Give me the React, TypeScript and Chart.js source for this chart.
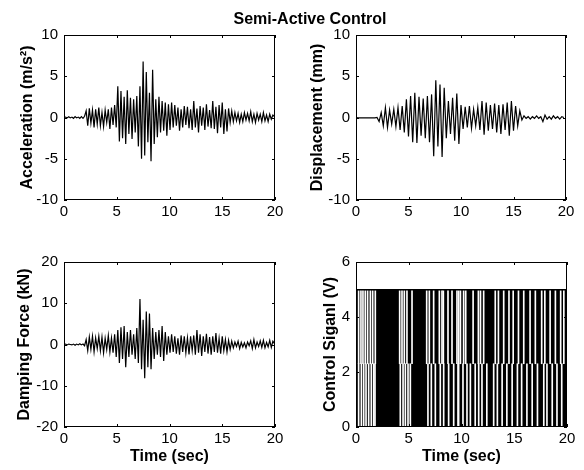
import React, { useEffect, useRef } from "react";
import { Chart, registerables } from "chart.js";
Chart.register(...registerables);

const FONT = "'Liberation Sans', Arial, sans-serif";

// ---------- data ----------
const X_MIN = 0;
const X_MAX = 20;
const X_STEP = 5;

// Acceleration (m/s^2), peaks sampled every 0.15 s
const ACC_STEP = 0.15;
const ACC_VALUES = [
  0, 0.05, -0.05, 0.1, -0.05, 0.05, -0.1, 0.1, -0.05, 0.05, -0.1, 0.1, -0.1, 0.15,
  0.8, -1.0, 1.1, -0.7, 0.9, -1.2, 1.0, -0.8, 1.2, -1.0, 0.6, -1.1, 0.9, -0.6, 1.0, -1.4, 1.2, -0.9, 1.5, -1.2,
  3.8, -2.9, 3.2, -2.5, 2.5, -3.2, 3.3, -2.0, 2.4, -2.6, 2.2, -1.8, 2.6,
  -3.5, 3.8, -5.0, 6.8, -4.6, 5.5, -3.0, 3.0, -5.3, 5.8,
  -3.2, 2.2, -2.4, 2.5, -1.8, 2.0, -1.6, 1.8, -2.2, 1.6,
  -1.5, 1.8, -1.2, 1.5, -1.0, 1.2, -1.6, 1.0, -1.2, 1.4, -0.9, 1.3, -1.3, 1.0, -1.5, 2.0, -1.2, 1.1, -1.8, 1.4,
  -1.0, 1.2, -1.5, 1.6, -1.1, 0.9, -1.3, 2.0, -1.4, 1.3, -1.9, 1.5, -1.2, 1.8, -2.0, 1.0, -1.7, 1.1, -0.6, 0.8,
  -0.5, 0.6, -0.4, 0.5, -0.6, 0.4, -0.5, 0.6, -0.3, 0.5, -0.4, 0.7, -0.5, 0.4, -0.6, 0.5, -0.3, 0.4, -0.5, 0.6,
  -0.4, 0.3, -0.5, 0.4, -0.2, 0.3, 0.1,
];

// Displacement (mm), peaks sampled every 0.2 s
const DISP_STEP = 0.2;
const DISP_VALUES = [
  0, -0.05, -0.05, -0.05, -0.05, -0.05, -0.05, -0.05, -0.05, -0.05, 0,
  -0.5, 0.6, -1.0, 1.2, -1.2, 0.9, -0.8, 1.0, -1.1, 1.2, -1.5, 1.4, -1.8, 2.2,
  -2.3, 2.6, -3.0, 3.0, -3.1, 2.5, -2.2, 2.3, -2.5, 2.6,
  -3.0, 2.8, -4.7, 4.5, -3.5, 4.0, -4.8, 3.6, -2.5, 2.0,
  -2.0, 2.4, -2.8, 2.9, -3.2, 1.5, -1.4, 1.3, -1.2, 1.4,
  -1.3, 1.0, -1.0, 1.2, -1.5, 2.0, -2.1, 1.8, -1.6, 1.5, -1.4, 1.7, -1.8, 1.5, -2.0, 1.6, -1.5, 1.8, -2.2, 2.0,
  -1.6, 1.4, -1.0, 0.8,
  -0.3, 0.2, -0.1, 0.1, -0.2, 0.1, -0.1, 0.2, -0.1, 0.1, -0.5, 0.3, -0.2, 0.1, -0.2, 0.2, -0.1, 0.1, -0.2, 0.1, 0,
];

// Damping force (kN), peaks sampled every 0.15 s
const FORCE_STEP = 0.15;
const FORCE_VALUES = [
  0, 0.1, -0.1, 0.1, 0, -0.1, 0.1, -0.2, 0.1, -0.1, 0.2, -0.1, 0.1, -0.3,
  1.2, -1.5, 1.8, -1.2, 2.0, -1.8, 1.6, -1.0, 2.0, -1.5, 1.8, -2.0, 1.5, -1.2, 2.2, -1.8, 1.6, -2.0, 2.5, -3.0,
  3.5, -4.5, 4.2, -3.5, 4.5, -5.5, 3.0, -3.0, 3.5, -2.5, 2.5, -3.5, 4.0,
  -4.5, 11.0, -6.0, 6.0, -8.2, 8.0, -5.5, 7.5, -6.0, 4.0,
  -3.5, 3.0, -2.5, 3.5, -3.0, 4.5, -4.0, 3.0, -2.5, 2.0,
  -2.0, 2.5, -1.8, 2.0, -2.2, 1.5, -2.5, 2.2, -1.8, 2.0, -2.0, 1.6, -2.4, 2.0, -1.5, 2.2, -2.5, 3.5, -2.0, 2.5,
  -2.8, 2.0, -1.8, 2.6, -2.2, 1.8, -2.5, 2.0, -1.8, 2.8, -2.0, 1.5, -2.2, 2.0, -1.5, 1.2, -1.8, 1.0, -1.2, 0.8,
  -0.8, 0.6, -0.5, 0.8, -1.0, 0.5, -0.6, 0.4, -0.8, 0.6, -0.3, 0.9, -1.0, 1.2, -0.8, 0.6, -0.5, 0.9, -0.7, 1.0,
  -0.8, 0.5, -0.6, 1.0, -0.7, 0.8, 0.2,
];

// Control signal (V): switching band 0..5 V, with gaps (white stripes)
const CONTROL_SPAN_TIME = [0, 20];
const CONTROL_SPAN_LEVEL = [5, 5];
const STRIPE_SPLIT_LEVEL = 2.3;
const STRIPE_TOP_LEVEL = 4.95;
const STRIPE_BOTTOM_LEVEL = 0;
const UPPER_STRIPE_TIMES = [
  0.25, 0.47, 0.66, 0.88, 1.1, 1.36, 1.58, 1.83, 4.14, 4.36, 4.58, 4.83, 5.31, 6.7, 6.95, 7.36, 7.9,
  8.15, 8.28, 8.72, 9.1, 9.57, 9.73, 9.9, 10.2, 10.4, 11.1, 11.6, 11.8, 12.1, 13.2, 13.5, 14.0, 14.5,
  14.9, 15.4, 15.9, 16.5, 17.0, 17.6, 17.9, 18.4, 18.9, 19.4, 19.7,
];
const LOWER_STRIPE_TIMES = [
  0.25, 0.51, 0.73, 0.95, 1.2, 1.45, 1.68, 1.8, 4.2, 4.46, 4.68, 4.93, 5.15, 6.82, 7.14, 7.52, 7.99,
  8.31, 8.78, 9.26, 9.67, 9.73, 10.14, 10.52, 10.84, 11.3, 11.63, 11.94, 12.4, 13.05, 13.4, 13.85,
  14.3, 14.8, 15.3, 15.7, 16.2, 16.7, 17.2, 17.8, 18.1, 18.6, 19.05, 19.5,
];

const TITLE = "Semi-Active Control";

// ---------- helpers ----------
const toPoints = (values: number[], step: number) =>
  values.map((v, i) => ({ x: i * step, y: v }));

const framePlugin = {
  id: "matlabFrame",
  afterDatasetsDraw(chart: any) {
    const { ctx, chartArea, scales } = chart;
    const { left, right, top, bottom } = chartArea;
    ctx.save();
    ctx.strokeStyle = "#000";
    ctx.lineWidth = 1;
    ctx.strokeRect(left + 0.5, top + 0.5, right - left - 1, bottom - top - 1);
    const tl = 3;
    ctx.beginPath();
    scales.x.ticks.forEach((t: any) => {
      const px = Math.round(scales.x.getPixelForValue(t.value)) + 0.5;
      ctx.moveTo(px, bottom);
      ctx.lineTo(px, bottom - tl);
      ctx.moveTo(px, top);
      ctx.lineTo(px, top + tl);
    });
    scales.y.ticks.forEach((t: any) => {
      const py = Math.round(scales.y.getPixelForValue(t.value)) + 0.5;
      ctx.moveTo(left, py);
      ctx.lineTo(left + tl, py);
      ctx.moveTo(right, py);
      ctx.lineTo(right - tl, py);
    });
    ctx.stroke();
    ctx.restore();
  },
};

type Panel = {
  left: number;
  top: number;
  width: number;
  height: number;
  padRight: number;
  xHeight: number;
  yTitle: string;
  yTitlePad: number;
  yMin: number;
  yMax: number;
  yStep: number;
  xTitle: boolean;
  datasets: any[];
};

const lineDs = (values: number[], step: number) => ({
  type: "line",
  data: toPoints(values, step),
  borderColor: "#000",
  borderWidth: 1.2,
  pointRadius: 0,
  tension: 0,
  fill: false,
});

const controlDatasets = [
  {
    type: "line",
    data: CONTROL_SPAN_TIME.map((t, i) => ({ x: t, y: CONTROL_SPAN_LEVEL[i] })),
    borderColor: "#000",
    backgroundColor: "#000",
    borderWidth: 1,
    pointRadius: 0,
    fill: "origin",
    order: 2,
  },
  {
    type: "bar",
    data: UPPER_STRIPE_TIMES.map((t) => ({ x: t, y: [STRIPE_SPLIT_LEVEL, STRIPE_TOP_LEVEL] })),
    backgroundColor: "#ffffff",
    barThickness: 1,
    grouped: false,
    order: 1,
  },
  {
    type: "bar",
    data: LOWER_STRIPE_TIMES.map((t) => ({ x: t, y: [STRIPE_BOTTOM_LEVEL, STRIPE_SPLIT_LEVEL] })),
    backgroundColor: "#ffffff",
    barThickness: 1,
    grouped: false,
    order: 1,
  },
];

// chart area top = canvas top + 15 (half tick label height + tick padding)
const PANELS: Panel[] = [
  {
    left: 0, top: 20, width: 292, height: 210, padRight: 17, xHeight: 30,
    yTitle: "Acceleration (m/s²)", yTitlePad: 18, yMin: -10, yMax: 10, yStep: 5, xTitle: false,
    datasets: [lineDs(ACC_VALUES, ACC_STEP)],
  },
  {
    left: 292, top: 20, width: 292, height: 210, padRight: 18, xHeight: 30,
    yTitle: "Displacement (mm)", yTitlePad: 16, yMin: -10, yMax: 10, yStep: 5, xTitle: false,
    datasets: [lineDs(DISP_VALUES, DISP_STEP)],
  },
  {
    left: 0, top: 247, width: 292, height: 223, padRight: 17, xHeight: 43,
    yTitle: "Damping Force (kN)", yTitlePad: 15, yMin: -20, yMax: 20, yStep: 10, xTitle: true,
    datasets: [lineDs(FORCE_VALUES, FORCE_STEP)],
  },
  {
    left: 292, top: 247, width: 292, height: 223, padRight: 17, xHeight: 43,
    yTitle: "Control Siganl (V)", yTitlePad: 29, yMin: 0, yMax: 6, yStep: 2, xTitle: true,
    datasets: controlDatasets,
  },
];

function makeConfig(p: Panel): any {
  const tickFont = { family: FONT, size: 15 };
  const titleFont = { family: FONT, size: 16, weight: "bold" };
  return {
    type: "line",
    data: { datasets: p.datasets },
    plugins: [framePlugin],
    options: {
      animation: false,
      responsive: false,
      maintainAspectRatio: false,
      layout: { padding: { top: 0, right: p.padRight, bottom: 0, left: 0 } },
      plugins: { legend: { display: false }, tooltip: { enabled: false }, title: { display: false } },
      scales: {
        x: {
          type: "linear",
          min: X_MIN,
          max: X_MAX,
          offset: false,
          ticks: { stepSize: X_STEP, padding: 3, font: tickFont, color: "#000", maxRotation: 0, autoSkip: false },
          grid: { display: false, drawTicks: false },
          border: { display: false },
          title: {
            display: p.xTitle,
            text: "Time (sec)",
            font: titleFont,
            color: "#000",
            padding: { top: 0, bottom: 4 },
          },
          afterFit: (s: any) => {
            s.height = p.xHeight;
          },
        },
        y: {
          type: "linear",
          min: p.yMin,
          max: p.yMax,
          ticks: { stepSize: p.yStep, padding: 6, font: tickFont, color: "#000" },
          grid: { display: false, drawTicks: false },
          border: { display: false },
          title: {
            display: true,
            text: p.yTitle,
            font: titleFont,
            color: "#000",
            padding: { top: p.yTitlePad, bottom: 0 },
          },
          afterFit: (s: any) => {
            s.width = 64;
          },
        },
      },
    },
  };
}

function PanelChart({ panel }: { panel: Panel }) {
  const ref = useRef<HTMLCanvasElement | null>(null);
  useEffect(() => {
    if (!ref.current) return;
    const chart = new Chart(ref.current, makeConfig(panel));
    return () => chart.destroy();
  }, [panel]);
  return (
    <canvas
      ref={ref}
      width={panel.width}
      height={panel.height}
      style={{
        position: "absolute",
        left: panel.left,
        top: panel.top,
        width: panel.width,
        height: panel.height,
      }}
    />
  );
}

export default function App() {
  return (
    <div
      style={{
        position: "fixed",
        left: 0,
        top: 0,
        width: 584,
        height: 470,
        background: "#fff",
        overflow: "hidden",
      }}
    >
      <div
        style={{
          position: "absolute",
          left: 200,
          top: 10,
          width: 220,
          textAlign: "center",
          fontFamily: FONT,
          fontWeight: "bold",
          fontSize: 16,
          lineHeight: "18px",
          color: "#000",
          whiteSpace: "nowrap",
          zIndex: 1,
        }}
      >
        {TITLE}
      </div>
      {PANELS.map((p, i) => (
        <PanelChart key={i} panel={p} />
      ))}
    </div>
  );
}
